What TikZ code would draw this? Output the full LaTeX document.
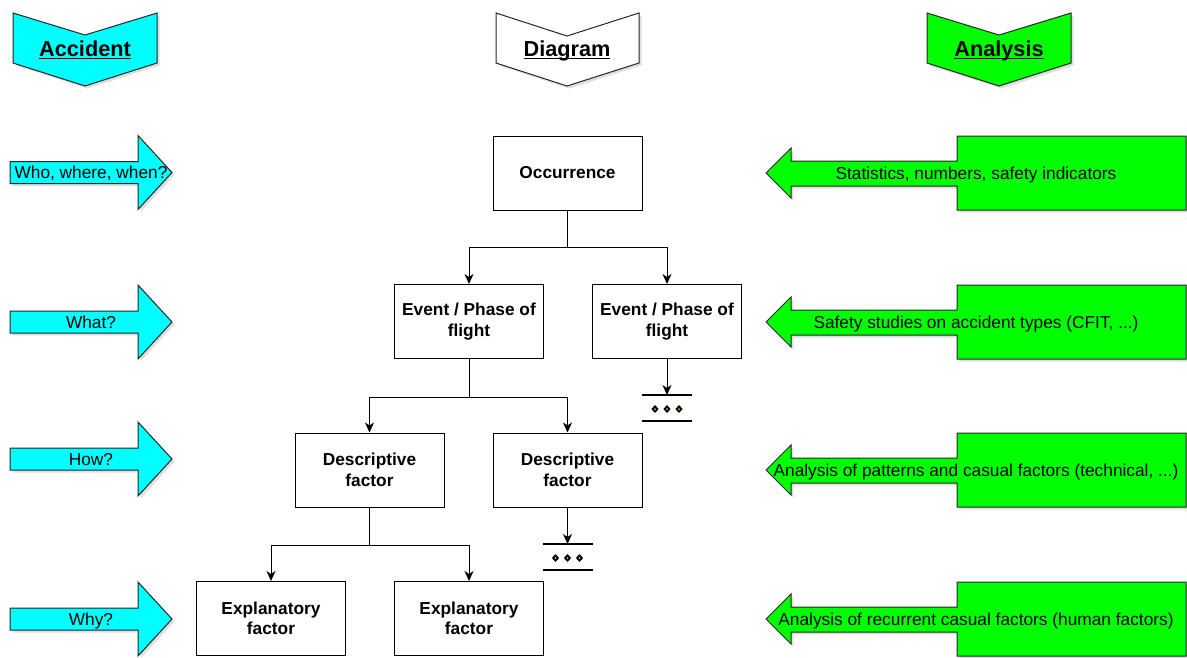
\documentclass[tikz,border=0pt]{standalone}
\usepackage{fontspec}
\setmainfont{Liberation Sans}
\usetikzlibrary{shadows,arrows.meta}
\definecolor{acccol}{HTML}{00FFFF}
\definecolor{anacol}{HTML}{00FF00}
\newcommand\hdul[1]{\setbox0\hbox{#1}\rlap{\rule[-3pt]{\wd0}{1.4pt}}\box0}
\newcommand\cyanarr[3]{%
  \path[shp, fill=acccol] (10,#1-11) -- (138,#1-11) -- (138,#1-37) -- (172,#1) -- (138,#1+37) -- (138,#1+11) -- (10,#1+11) -- cycle;
  \node[lbl, anchor=base] (#2) at (91,#1+6) {#3};}
\newcommand\greencall[3]{%
  \path[shp, fill=anacol] (957,#1-37) -- (1186,#1-37) -- (1186,#1+37) -- (957,#1+37) -- (957,#1+13) -- (791,#1+13) -- (791,#1+25) -- (766,#1) -- (791,#1-25) -- (791,#1-12) -- (957,#1-12) -- cycle;
  \node[lbl, anchor=base] (#2) at (976,#1+6) {#3};}
\newcommand\gndsym[3]{% x, top y, name of coordinate
  \draw[gnd] (#1-25,#2) -- (#1+25,#2);
  \draw[gnd] (#1-25,#2+26) -- (#1+25,#2+26);
  \foreach \dx in {-12,0,12}{%
    \fill[black] (#1+\dx,#2+14) +(0,-4) -- +(3.6,0) -- +(0,4) -- +(-3.6,0) -- cycle;
    \fill[yellow!85!black] (#1+\dx,#2+14) circle (1pt);}}
\begin{document}
\begin{tikzpicture}[x=1pt,y=-1pt,
  shade/.style={drop shadow={opacity=0.25,shadow xshift=2.5pt,shadow yshift=-2.5pt}},
  shp/.style={draw=black!85, line width=1pt, line join=miter, shade},
  box/.style={draw=black, line width=1pt, fill=white, minimum width=149pt, minimum height=74pt,
    inner sep=0pt, align=center, font=\bfseries\fontsize{17.3}{20.5}\selectfont},
  lbl/.style={font=\fontsize{17.3}{20}\selectfont, inner sep=0pt},
  hdr/.style={font=\bfseries\fontsize{21.7}{24}\selectfont, inner sep=0pt},
  conn/.style={line width=1pt, -{Stealth[length=10pt,width=9pt,inset=3pt]}},
  gnd/.style={line width=2pt},
]
\useasboundingbox (0,0) rectangle (1187,657);

% header chevrons
\path[shp, fill=acccol] (13,13) -- (85,35) -- (157,13) -- (157,63) -- (85,86) -- (13,63) -- cycle;
\node[hdr, anchor=base] (acc) at (85,56) {\hdul{Accident}};
\path[shp, fill=white] (496,13) -- (567,36) -- (639,13) -- (639,63) -- (567,86) -- (496,63) -- cycle;
\node[hdr, anchor=base] (dia) at (567,56) {\hdul{Diagram}};
\path[shp, fill=anacol] (927,13) -- (999,35) -- (1071,13) -- (1071,63) -- (999,86) -- (927,63) -- cycle;
\node[hdr, anchor=base] (ana) at (999,56) {\hdul{Analysis}};

% left arrows
\cyanarr{172.5}{who}{Who, where, when?}
\cyanarr{322}{what}{What?}
\cyanarr{459}{how}{How?}
\cyanarr{619}{why}{Why?}

% right callouts
\greencall{173}{stat}{Statistics, numbers, safety indicators}
\greencall{322}{safe}{Safety studies on accident types (CFIT, ...)}
\greencall{470}{patt}{Analysis of patterns and casual factors (technical, ...)}
\greencall{619}{recu}{Analysis of recurrent casual factors (human factors)}

% tree boxes
\node[box] (occ) at (567.5,173) {Occurrence};
\node[box] (ev1) at (469,321.5) {Event / Phase of\\flight};
\node[box] (ev2) at (667,321.5) {Event / Phase of\\flight};
\node[box] (de1) at (369.5,470) {Descriptive\\factor};
\node[box] (de2) at (567.5,470) {Descriptive\\factor};
\node[box] (ex1) at (271,618.5) {Explanatory\\factor};
\node[box] (ex2) at (469,618.5) {Explanatory\\factor};

% connectors
\coordinate (j1) at (567.5,247);
\coordinate (j2) at (469,397);
\coordinate (j3) at (369.5,545);
\draw[conn] (occ.south) -- (j1) -| (ev1.north);
\draw[conn] (j1) -| (ev2.north);
\draw[conn] (ev1.south) -- (j2) -| (de1.north);
\draw[conn] (j2) -| (de2.north);
\draw[conn] (de1.south) -- (j3) -| (ex1.north);
\draw[conn] (j3) -| (ex2.north);

% continuation symbols
\coordinate (g1) at (667,395);
\coordinate (g2) at (567.5,544);
\draw[conn] (ev2.south) -- (g1);
\draw[conn] (de2.south) -- (g2);
\gndsym{667}{395}{g1}
\gndsym{567.5}{544}{g2}
\end{tikzpicture}
\end{document}
